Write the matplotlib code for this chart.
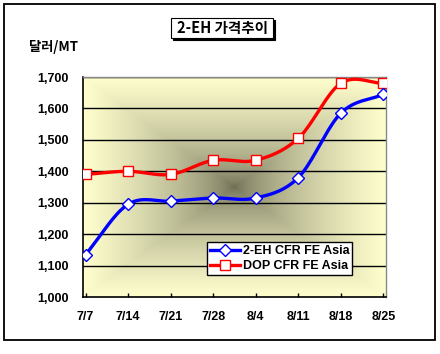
import numpy as np
import matplotlib
matplotlib.use('Agg')
import matplotlib.pyplot as plt
from matplotlib.patches import Rectangle
from matplotlib.lines import Line2D

# 데이터
dates = ['7/7', '7/14', '7/21', '7/28', '8/4', '8/11', '8/18', '8/25']
eh_values = [1135, 1295, 1305, 1315, 1315, 1380, 1585, 1645]
dop_values = [1390, 1400, 1390, 1435, 1435, 1505, 1680, 1680]
eh_label = '2-EH CFR FE Asia'
dop_label = 'DOP CFR FE Asia'
title = '2-EH 가격추이'
y_unit = '달러/MT'
y_ticks = [1000, 1100, 1200, 1300, 1400, 1500, 1600, 1700]

W, H = 440, 354
kr_font = ['Noto Sans CJK KR', 'DejaVu Sans']
lat_font = ['Liberation Sans', 'DejaVu Sans']


def px(x, y):
    # 픽셀 좌표 -> figure 좌표
    return x / W, 1 - y / H


def smooth(xs, ys, n=20):
    # Catmull-Rom 곡선 (엑셀 스무딩 선처럼)
    xs = np.asarray(xs, float)
    ys = np.asarray(ys, float)
    px_ = np.concatenate([[2 * xs[0] - xs[1]], xs, [2 * xs[-1] - xs[-2]]])
    py_ = np.concatenate([[2 * ys[0] - ys[1]], ys, [2 * ys[-1] - ys[-2]]])
    out_x, out_y = [], []
    t = np.linspace(0, 1, n, endpoint=False)
    for i in range(1, len(px_) - 2):
        for arr, out in ((px_, out_x), (py_, out_y)):
            p0, p1, p2, p3 = arr[i - 1], arr[i], arr[i + 1], arr[i + 2]
            out.extend(0.5 * (2 * p1 + (-p0 + p2) * t
                              + (2 * p0 - 5 * p1 + 4 * p2 - p3) * t ** 2
                              + (-p0 + 3 * p1 - 3 * p2 + p3) * t ** 3))
    out_x.append(xs[-1])
    out_y.append(ys[-1])
    return np.array(out_x), np.array(out_y)


fig = plt.figure(figsize=(W / 100, H / 100), dpi=100)
fig.patch.set_facecolor('white')

# 바깥 테두리
x0, y0 = px(4, 340)
x1, y1 = px(435, 4)
fig.patches.append(Rectangle((x0, y0), x1 - x0, y1 - y0, transform=fig.transFigure,
                             fill=False, ec='black', lw=1.3))

# 제목 박스 (그림자 포함)
bx0, by0 = px(171, 38)
bx1, by1 = px(273, 18)
sx, sy = 2 / W, -2 / H
fig.patches.append(Rectangle((bx0 + sx, by0 + sy), bx1 - bx0, by1 - by0,
                             transform=fig.transFigure, fc='black', ec='black', lw=0.8))
fig.patches.append(Rectangle((bx0, by0), bx1 - bx0, by1 - by0,
                             transform=fig.transFigure, fc='white', ec='black', lw=0.8))
tx, ty = px(222, 28)
fig.text(tx, ty, title, ha='center', va='center', fontsize=10.5,
         fontweight='bold', family=kr_font)

ux, uy = px(29, 47)
fig.text(ux, uy, y_unit, ha='left', va='center', fontsize=9.5,
         fontweight='bold', family=kr_font)

# 플롯 영역
ax = fig.add_axes([83 / W, 1 - 297 / H, 303 / W, 220 / H])
xpos = np.arange(len(dates))
ax.set_xlim(-0.06, len(dates) - 1 + 0.06)
ax.set_ylim(1000, 1700)

# 가운데가 어두운 사각 그라데이션 배경
gx = np.linspace(-1, 1, 300)
gy = np.linspace(-1, 1, 220)
GX, GY = np.meshgrid(gx, gy)
r = np.maximum(np.abs(GX), np.abs(GY))
r = np.clip(r, 0, 1) ** 0.6
center = np.array([105, 104, 80]) / 255
edge = np.array([255, 255, 206]) / 255
img = center[None, None, :] + (edge - center)[None, None, :] * r[:, :, None]
ax.imshow(img, extent=[ax.get_xlim()[0], ax.get_xlim()[1], 1000, 1700],
          aspect='auto', zorder=0, interpolation='bilinear')

for yv in y_ticks[1:]:
    ax.axhline(yv, color='black', lw=1.0, zorder=1)

sx_, sy_ = smooth(xpos, dop_values)
ax.plot(sx_, sy_, color='#ff0000', lw=2.4, zorder=3, solid_capstyle='butt')
ax.plot(xpos, dop_values, ls='none', marker='s', ms=7, mfc='white',
        mec='#ff0000', mew=1.0, zorder=4)
sx_, sy_ = smooth(xpos, eh_values)
ax.plot(sx_, sy_, color='#0000ff', lw=2.4, zorder=3, solid_capstyle='butt')
ax.plot(xpos, eh_values, ls='none', marker='D', ms=6.5, mfc='white',
        mec='#0000ff', mew=1.0, zorder=4)

ax.set_yticks(y_ticks)
ax.set_yticklabels([f'{v:,}' for v in y_ticks])
ax.set_xticks(xpos)
ax.set_xticklabels(dates)
ax.tick_params(axis='x', direction='in', length=3, pad=10, width=1)
ax.tick_params(axis='y', length=0, pad=10)
for lab in ax.get_xticklabels() + ax.get_yticklabels():
    lab.set_fontsize(9)
    lab.set_fontweight('bold')
    lab.set_family(lat_font)

for side in ('top', 'right'):
    ax.spines[side].set_color('#888888')
    ax.spines[side].set_linewidth(1.0)
for side in ('left', 'bottom'):
    ax.spines[side].set_color('black')
    ax.spines[side].set_linewidth(1.2)

handles = [
    Line2D([], [], color='#0000ff', lw=2.4, marker='D', ms=6.5, mfc='white', mec='#0000ff'),
    Line2D([], [], color='#ff0000', lw=2.4, marker='s', ms=7, mfc='white', mec='#ff0000'),
]
lx, ly = px(207, 242)
leg = fig.legend(handles, [eh_label, dop_label], loc='upper left',
                 bbox_to_anchor=(lx, ly), fancybox=False, framealpha=1,
                 edgecolor='black', handlelength=2.4, handletextpad=0.2,
                 borderpad=0.25, labelspacing=0.25, borderaxespad=0,
                 prop={'family': lat_font, 'weight': 'bold', 'size': 9})
leg.get_frame().set_linewidth(1.0)

fig.savefig('out.png', dpi=100)
